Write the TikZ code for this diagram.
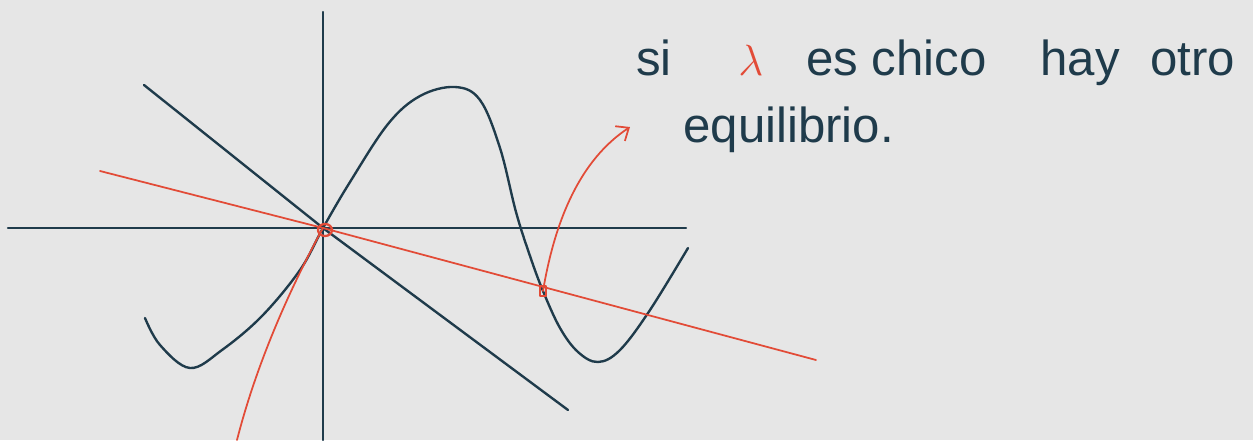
\documentclass[tikz,border=0pt]{standalone}
\usepackage{fontspec}
\setmainfont{Liberation Sans}
\usetikzlibrary{arrows.meta}

\definecolor{ink}{HTML}{1F3B4B}
\definecolor{pen}{HTML}{E24B37}
\definecolor{paper}{HTML}{E6E6E6}

\begin{document}
\begin{tikzpicture}[x=0.02cm,y=-0.02cm,line cap=round,line join=round,
    axis/.style={ink,line width=1.35pt},
    redline/.style={pen,line width=1pt},
    words/.style={ink,anchor=base west,inner sep=0pt,font=\fontsize{28}{32}\selectfont}]
  \fill[paper] (0,0) rectangle (1253,440);
  \useasboundingbox (0,0) rectangle (1253,440);

  % ejes
  \draw[axis] (8,228) -- (686,228);
  \draw[axis] (323,12) -- (323,440);
  \coordinate (O) at (323,228);
  \coordinate (P) at (543,291);

  % recta por el origen y la curva
  \draw[axis] (144,85) -- (O) -- (568,410);
  \draw[axis] plot[smooth,tension=.6] coordinates {(145,318) (160,345) (190,368)
    (222,350) (262,316) (300,270) (323,228) (350,182) (388,124) (420,96) (455,87)
    (480,100) (500,148) (516,212) (530,256) (543,291) (560,328) (578,352)
    (598,362) (620,350) (650,310) (688,248)};

  % rojo
  \draw[redline] (100,171) -- (O) -- (816,360);
  \draw[redline] (237,440) .. controls (260,350) and (300,270) .. (O);
  \draw[redline,-{Straight Barb[length=6pt,width=10pt]}]
    (P) .. controls (555,220) and (580,160) .. (630,127);
  \draw[redline,line width=1.3pt] (325,230) ellipse [x radius=7,y radius=6];
  \draw[redline,line width=1.3pt] (540,286) rectangle (546,296);

  % texto
  \node[words] (si) at (636,75) {si};
  \node[words,pen] (lam) at (738,75) {$\lambda$};
  \node[words] (chico) at (806,75) {es chico};
  \node[words] (hay) at (1040,75) {hay};
  \node[words] (otro) at (1150,75) {otro};
  \node[words] (equi) at (683,142) {equilibrio.};
\end{tikzpicture}
\end{document}
